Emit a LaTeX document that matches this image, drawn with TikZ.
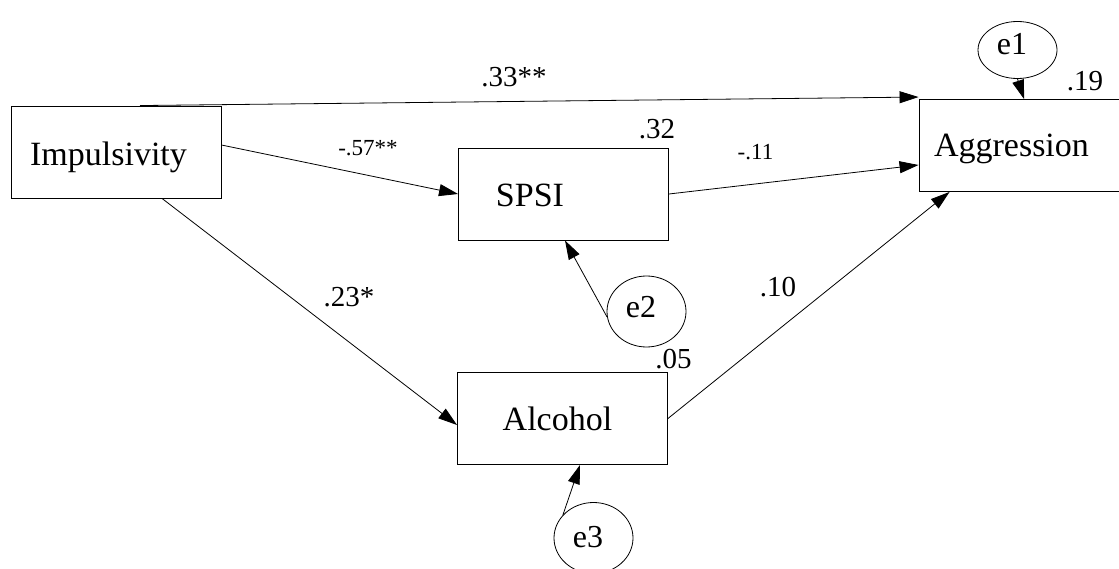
\documentclass[tikz,border=0pt]{standalone}
\usepackage{fontspec}
\setmainfont{Liberation Serif}
\usetikzlibrary{arrows.meta,shapes.geometric}
\begin{document}
\begin{tikzpicture}[x=1pt,y=-1pt,
  box/.style={draw, line width=0.9pt, rectangle, minimum width=210pt, minimum height=92pt, inner sep=0pt},
  err/.style={draw, line width=0.8pt, ellipse, minimum width=79pt, inner sep=0pt},
  txt/.style={font=\fontsize{34}{40}\selectfont, inner sep=0pt, anchor=base},
  etxt/.style={font=\fontsize{32}{38}\selectfont, inner sep=0pt, anchor=base},
  lab/.style={font=\fontsize{29}{34}\selectfont, inner sep=0pt, anchor=base},
  slab/.style={font=\fontsize{23}{28}\selectfont, inner sep=0pt, anchor=base},
  conn/.style={draw, line width=0.8pt, -{Triangle[length=19pt,width=12pt]}}]
\useasboundingbox (0,0) rectangle (1119,569);
% boxes
\node[box] (imp) at (116,152) {};
\node[box] (spsi) at (563.5,194) {};
\node[box] (alc) at (562.5,418.5) {};
\node[box] (agg) at (1024,145.5) {};
\node[txt] (impT) at (108.5,166) {Impulsivity};
\node[txt] (spsiT) at (530,207) {SPSI};
\node[txt] (alcT) at (557.5,430) {Alcohol};
\node[txt] (aggT) at (1011.5,157) {Aggression};
% error terms
\node[err, minimum height=57pt] (e1) at (1017.5,50) {};
\node[err, minimum height=71pt] (e2) at (646.5,311.5) {};
\node[err, minimum height=71pt] (e3) at (593.5,538) {};
\node[etxt] (e1T) at (1012,55) {e1};
\node[etxt] (e2T) at (641,318) {e2};
\node[etxt] (e3T) at (588,547) {e3};
% connectors
\draw[conn] ([xshift=24pt]imp.north) -- ([yshift=2pt]agg.north west);
\draw[conn] ([yshift=7pt]imp.east) -- (spsi.west);
\draw[conn] ([xshift=46pt]imp.south) -- ([yshift=-6.5pt]alc.west);
\draw[conn] (spsi.east) -- ([yshift=-19.5pt]agg.west);
\draw[conn] (alc.east) -- ([xshift=31pt]agg.south west);
\draw[conn] (e1.south) -- (agg.north);
\draw[conn] (e2.188) -- ([xshift=1.5pt]spsi.south);
\draw[conn] (e3.143) -- ([xshift=17.5pt]alc.south);
% labels
\node[lab] (l33) at (514,87) {.33**};
\node[slab] (l57) at (368,156) {-.57**};
\node[lab] (l32) at (657,139) {.32};
\node[slab] (l11) at (755.5,160) {-.11};
\node[lab] (l23) at (349,306) {.23*};
\node[lab] (l10) at (778,297) {.10};
\node[lab] (l05) at (673.5,368) {.05};
\node[lab] (l19) at (1085,91) {.19};
\end{tikzpicture}
\end{document}
